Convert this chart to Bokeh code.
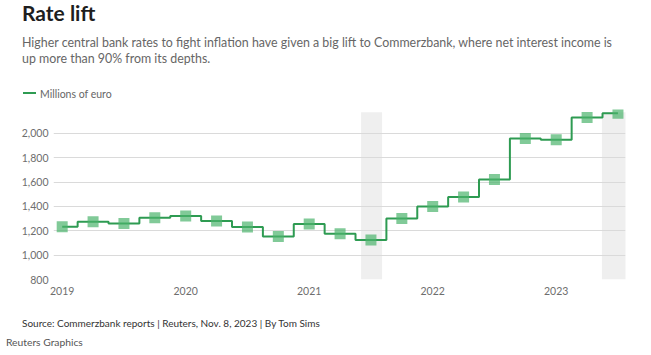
from bokeh.plotting import figure
from bokeh.models import FixedTicker, NumeralTickFormatter, Range1d, Div
from bokeh.layouts import column
from bokeh.embed import file_html
from bokeh.resources import INLINE

# ---- data ----
quarters = [2019.0, 2019.25, 2019.5, 2019.75,
            2020.0, 2020.25, 2020.5, 2020.75,
            2021.0, 2021.25, 2021.5, 2021.75,
            2022.0, 2022.25, 2022.5, 2022.75,
            2023.0, 2023.25, 2023.5]
net_interest_income = [1234, 1275, 1261, 1308,
                       1322, 1280, 1231, 1154,
                       1256, 1176, 1124, 1302,
                       1401, 1478, 1621, 1959,
                       1948, 2132, 2167]
band_start = [2021.42, 2023.37]
band_end = [2021.59, 2023.60]
y_ticks = [800, 1000, 1200, 1400, 1600, 1800, 2000]
x_ticks = [2019, 2020, 2021, 2022, 2023]

title_text = "Rate lift"
subtitle_lines = [
    "Higher central bank rates to fight inflation have given a big lift to Commerzbank, where net interest income is",
    "up more than 90% from its depths.",
]
legend_text = "Millions of euro"
source_text = "Source: Commerzbank reports | Reuters, Nov. 8, 2023 | By Tom Sims"
credit_text = "Reuters Graphics"

LINE = "#2e9b52"
MARK = "#4cb46c"
FONT = "Lato"
W = 651
H_HEAD, H_MAIN, H_FOOT = 109, 192, 54
ASC = 0.887  # Lato baseline offset for line-height 1


def span(txt, x, baseline, size, color, weight="normal"):
    top = baseline - ASC * size
    return (f'<span style="position:absolute;left:{x}px;top:{top:.2f}px;'
            f'font-family:{FONT};font-size:{size}px;line-height:1;color:{color};'
            f'font-weight:{weight};white-space:nowrap;">{txt}</span>')


def panel(height, parts):
    html = (f'<div style="position:relative;width:{W}px;height:{height}px;'
            f'overflow:hidden;">' + "".join(parts) + '</div>')
    return Div(text=html, width=W, height=height, margin=0)


key_box = (f'<span style="position:absolute;left:23px;top:92.3px;width:13px;height:2px;'
           f'background:{LINE};"></span>')

head = panel(H_HEAD, [
    span(title_text, 22, 21, 21, "#1e1e1e", "bold"),
    span(subtitle_lines[0], 22, 47.5, 12.4, "#666666"),
    span(subtitle_lines[1], 22, 63.5, 12.4, "#666666"),
    key_box,
    span(legend_text, 40, 98, 10.5, "#666666"),
])

# ---- main chart ----
p = figure(width=W, height=H_MAIN, output_backend="svg", toolbar_location=None,
           x_range=Range1d(2018.9296, 2023.561), y_range=Range1d(800, 2197.2),
           min_border_left=53, min_border_right=26, min_border_top=0,
           min_border_bottom=22)
p.outline_line_color = None

bands = p.quad(left=band_start, right=band_end, bottom=800, top=2175,
               fill_color="#efefef", line_color=None)
bands.level = "image"

p.xgrid.grid_line_color = None
p.ygrid.grid_line_color = "#dadada"
p.ygrid.ticker = FixedTicker(ticks=y_ticks)

p.yaxis.ticker = FixedTicker(ticks=y_ticks)
p.yaxis.formatter = NumeralTickFormatter(format="0,0")
p.xaxis.ticker = FixedTicker(ticks=x_ticks)
for ax in (p.xaxis[0], p.yaxis[0]):
    ax.axis_line_color = None
    ax.major_tick_line_color = None
    ax.minor_tick_line_color = None
    ax.major_tick_out = 0
    ax.major_tick_in = 0
    ax.major_label_text_font = FONT
    ax.major_label_text_font_size = "10.5px"
    ax.major_label_text_color = "#6e6e6e"
p.yaxis.major_label_standoff = 5
p.xaxis.major_label_standoff = 7

p.step(quarters, net_interest_income, mode="center", line_color=LINE, line_width=2)
p.scatter(quarters, net_interest_income, marker="square", size=11,
          fill_color=MARK, fill_alpha=0.7, line_color=None)

# ---- footer ----
foot = panel(H_FOOT, [
    span(source_text, 22, 26, 10, "#333333"),
    span(credit_text, 6, 45.5, 10.3, "#555555"),
])

layout = column(head, p, foot, spacing=0)
open("out.html", "w").write(file_html(layout, INLINE))
